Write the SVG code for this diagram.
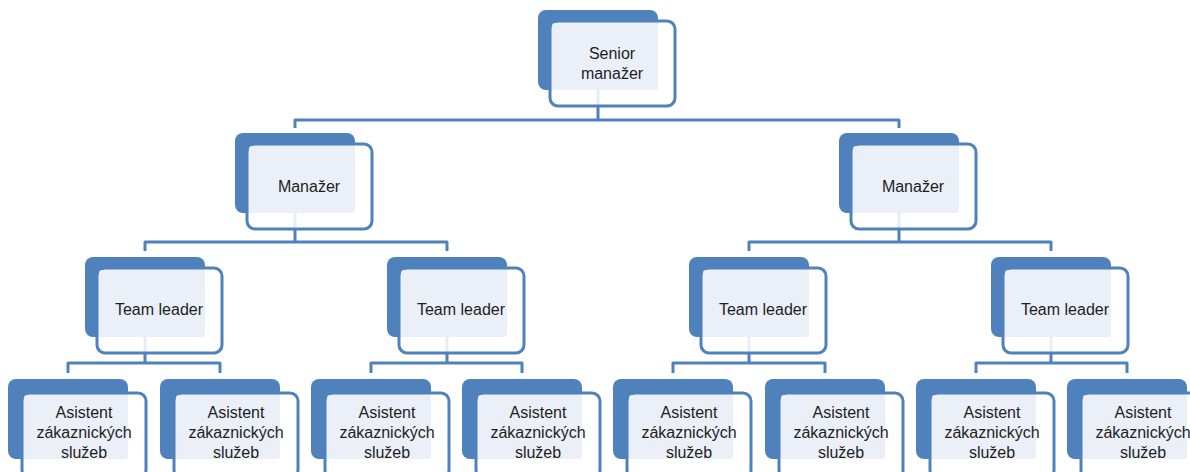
<svg xmlns="http://www.w3.org/2000/svg" width="1190" height="472" viewBox="0 0 1190 472">
<style>
.back{fill:#4f81bd}
.front{fill:#ffffff;fill-opacity:0.86;stroke:#4f81bd;stroke-width:3}
.face{fill:#ebf0f8}
.lbl{font-family:"Liberation Sans",Arial,sans-serif;font-size:16px;fill:#1e1e1e;text-anchor:middle}
.conn{fill:none;stroke:#4f81bd;stroke-width:3;stroke-linejoin:round}
</style>
<rect width="1190" height="472" fill="#ffffff"/>
<g id="connectors" class="conn">
<path d="M598 90V120M295 128V120H899V128"/>
<path d="M295 213V242M145 251V242H447V251"/>
<path d="M899 213V242M749 251V242H1051V251"/>
<path d="M145 337V363M68 373V363H220V373"/>
<path d="M447 337V363M371 373V363H522V373"/>
<path d="M749 337V363M673 373V363H825V373"/>
<path d="M1051 337V363M976 373V363H1127V373"/>
</g>
<g id="senior">
<rect class="back" x="538" y="10" width="120" height="80" rx="8"/>
<rect class="front" x="550" y="21" width="125" height="85" rx="8"/>
<rect class="face" x="552" y="23" width="106" height="67" rx="3"/>
<text class="lbl" x="612" y="59">Senior</text>
<text class="lbl" x="612" y="79">manažer</text>
</g>
<g id="manager-1">
<rect class="back" x="235" y="133" width="120" height="80" rx="8"/>
<rect class="front" x="247" y="144" width="125" height="85" rx="8"/>
<rect class="face" x="249" y="146" width="106" height="67" rx="3"/>
<text class="lbl" x="309" y="192">Manažer</text>
</g>
<g id="manager-2">
<rect class="back" x="839" y="133" width="120" height="80" rx="8"/>
<rect class="front" x="851" y="144" width="125" height="85" rx="8"/>
<rect class="face" x="853" y="146" width="106" height="67" rx="3"/>
<text class="lbl" x="913" y="192">Manažer</text>
</g>
<g id="teamleader-1">
<rect class="back" x="85" y="257" width="120" height="80" rx="8"/>
<rect class="front" x="97" y="268" width="125" height="85" rx="8"/>
<rect class="face" x="99" y="270" width="106" height="67" rx="3"/>
<text class="lbl" x="159" y="315">Team leader</text>
</g>
<g id="teamleader-2">
<rect class="back" x="387" y="257" width="120" height="80" rx="8"/>
<rect class="front" x="399" y="268" width="125" height="85" rx="8"/>
<rect class="face" x="401" y="270" width="106" height="67" rx="3"/>
<text class="lbl" x="461" y="315">Team leader</text>
</g>
<g id="teamleader-3">
<rect class="back" x="689" y="257" width="120" height="80" rx="8"/>
<rect class="front" x="701" y="268" width="125" height="85" rx="8"/>
<rect class="face" x="703" y="270" width="106" height="67" rx="3"/>
<text class="lbl" x="763" y="315">Team leader</text>
</g>
<g id="teamleader-4">
<rect class="back" x="991" y="257" width="120" height="80" rx="8"/>
<rect class="front" x="1003" y="268" width="125" height="85" rx="8"/>
<rect class="face" x="1005" y="270" width="106" height="67" rx="3"/>
<text class="lbl" x="1065" y="315">Team leader</text>
</g>
<g id="asistent-1">
<rect class="back" x="8" y="379" width="120" height="80" rx="8"/>
<rect class="front" x="22" y="393" width="124" height="85" rx="8"/>
<rect class="face" x="24" y="395" width="104" height="64" rx="3"/>
<text class="lbl" x="84" y="418">Asistent</text>
<text class="lbl" x="84" y="438">zákaznických</text>
<text class="lbl" x="84" y="458">služeb</text>
</g>
<g id="asistent-2">
<rect class="back" x="160" y="379" width="120" height="80" rx="8"/>
<rect class="front" x="174" y="393" width="124" height="85" rx="8"/>
<rect class="face" x="176" y="395" width="104" height="64" rx="3"/>
<text class="lbl" x="236" y="418">Asistent</text>
<text class="lbl" x="236" y="438">zákaznických</text>
<text class="lbl" x="236" y="458">služeb</text>
</g>
<g id="asistent-3">
<rect class="back" x="311" y="379" width="120" height="80" rx="8"/>
<rect class="front" x="325" y="393" width="124" height="85" rx="8"/>
<rect class="face" x="327" y="395" width="104" height="64" rx="3"/>
<text class="lbl" x="387" y="418">Asistent</text>
<text class="lbl" x="387" y="438">zákaznických</text>
<text class="lbl" x="387" y="458">služeb</text>
</g>
<g id="asistent-4">
<rect class="back" x="462" y="379" width="120" height="80" rx="8"/>
<rect class="front" x="476" y="393" width="124" height="85" rx="8"/>
<rect class="face" x="478" y="395" width="104" height="64" rx="3"/>
<text class="lbl" x="538" y="418">Asistent</text>
<text class="lbl" x="538" y="438">zákaznických</text>
<text class="lbl" x="538" y="458">služeb</text>
</g>
<g id="asistent-5">
<rect class="back" x="613" y="379" width="120" height="80" rx="8"/>
<rect class="front" x="627" y="393" width="124" height="85" rx="8"/>
<rect class="face" x="629" y="395" width="104" height="64" rx="3"/>
<text class="lbl" x="689" y="418">Asistent</text>
<text class="lbl" x="689" y="438">zákaznických</text>
<text class="lbl" x="689" y="458">služeb</text>
</g>
<g id="asistent-6">
<rect class="back" x="765" y="379" width="120" height="80" rx="8"/>
<rect class="front" x="779" y="393" width="124" height="85" rx="8"/>
<rect class="face" x="781" y="395" width="104" height="64" rx="3"/>
<text class="lbl" x="841" y="418">Asistent</text>
<text class="lbl" x="841" y="438">zákaznických</text>
<text class="lbl" x="841" y="458">služeb</text>
</g>
<g id="asistent-7">
<rect class="back" x="916" y="379" width="120" height="80" rx="8"/>
<rect class="front" x="930" y="393" width="124" height="85" rx="8"/>
<rect class="face" x="932" y="395" width="104" height="64" rx="3"/>
<text class="lbl" x="992" y="418">Asistent</text>
<text class="lbl" x="992" y="438">zákaznických</text>
<text class="lbl" x="992" y="458">služeb</text>
</g>
<g id="asistent-8">
<rect class="back" x="1067" y="379" width="120" height="80" rx="8"/>
<rect class="front" x="1081" y="393" width="124" height="85" rx="8"/>
<rect class="face" x="1083" y="395" width="104" height="64" rx="3"/>
<text class="lbl" x="1143" y="418">Asistent</text>
<text class="lbl" x="1143" y="438">zákaznických</text>
<text class="lbl" x="1143" y="458">služeb</text>
</g>
</svg>
